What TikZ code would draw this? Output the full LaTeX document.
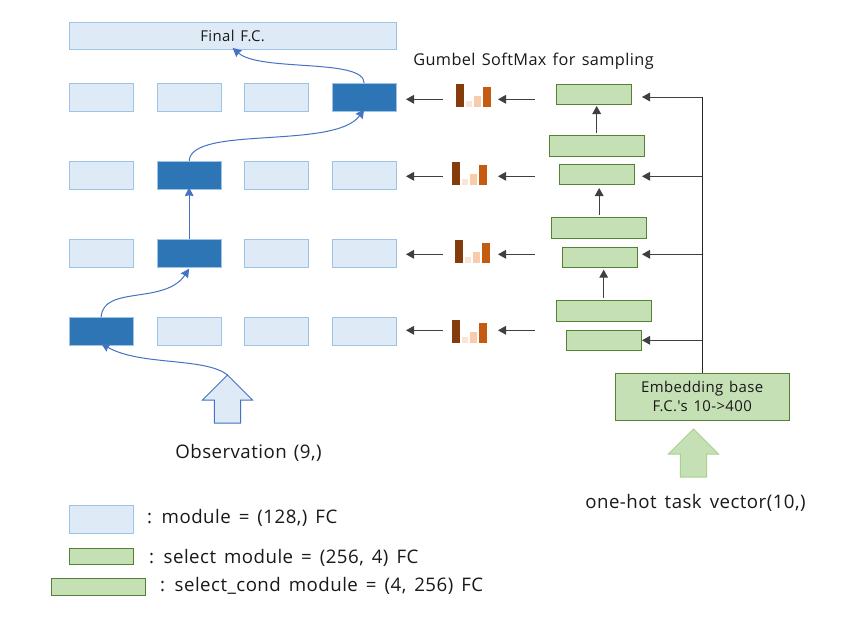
\documentclass[tikz,border=0pt]{standalone}
\usepackage{fontspec}
\setmainfont{Open Sans}
\newfontfamily\lblfont[LetterSpace=2.5,WordSpace=1.35]{Open Sans}
\newcommand{\legendfont}{\lblfont\fontsize{14pt}{16pt}\selectfont\setlength{\spaceskip}{6pt}}
\usetikzlibrary{arrows.meta,shapes.arrows,calc}
\definecolor{modfill}{HTML}{DEEAF6}
\definecolor{modline}{HTML}{9DC3E6}
\definecolor{modon}{HTML}{2E75B6}
\definecolor{grfill}{HTML}{C5E0B4}
\definecolor{grline}{HTML}{548235}
\definecolor{grsoft}{HTML}{A9D18E}
\definecolor{flow}{HTML}{4472C4}
\definecolor{dk}{HTML}{404040}
\definecolor{barA}{HTML}{843C0C}
\definecolor{barB}{HTML}{FBE5D6}
\definecolor{barC}{HTML}{F8CBAD}
\definecolor{barD}{HTML}{C55A11}
\tikzset{
  x=0.75pt,y=-0.75pt,
  boxbase/.style={rectangle,inner sep=0pt,outer sep=0pt,line width=0.75pt,anchor=north west},
  mod/.style={boxbase,draw=modline,fill=modfill,minimum width=48.25pt,minimum height=21pt},
  modsel/.style={boxbase,draw=modline,fill=modon,minimum width=48.25pt,minimum height=21pt},
  selbox/.style={boxbase,draw=grline,fill=grfill,minimum width=56.5pt,minimum height=15pt},
  condbox/.style={boxbase,draw=grline,fill=grfill,minimum width=71.5pt,minimum height=16pt},
  chartbox/.style={rectangle,inner sep=0pt,outer sep=0pt,minimum width=26.25pt,minimum height=17.25pt,anchor=north west},
  flowarrow/.style={draw=flow,line width=0.75pt,-{Stealth[length=6.5pt,width=6.5pt,inset=0.6pt]}},
  dkarrow/.style={draw=dk,line width=0.75pt,-{Stealth[length=6pt,width=6.5pt,inset=0pt]}},
  dkline/.style={draw=black!85,line width=0.75pt},
  bigarrow/.style={single arrow,shape border rotate=90,inner sep=9.4pt,outer sep=0pt,minimum height=36pt,minimum width=36.5pt,single arrow head extend=9pt,single arrow tip angle=90,line width=0.75pt,anchor=tip},
  txt/.style={inner sep=0pt,outer sep=0pt,text=black!90,font=\lblfont\fontsize{14pt}{16pt}\selectfont},
  lgtxt/.style={inner sep=0pt,outer sep=0pt,text=black!90,font=\legendfont},
  smalltxt/.style={inner sep=0pt,outer sep=0pt,text=black!90,font=\lblfont\fontsize{11.2pt}{14.2pt}\selectfont,align=center},
}
\newcommand{\chartat}[3]{%
  \node[chartbox] (#1) at (#2,#3) {};
  \fill[barA] (#2,#3) rectangle (#2+8,#3+23);
  \fill[barB] (#2+10,#3+17) rectangle (#2+16.5,#3+23);
  \fill[barC] (#2+18,#3+12) rectangle (#2+25,#3+23);
  \fill[barD] (#2+27,#3+3) rectangle (#2+35,#3+23);
}
\begin{document}
\begin{tikzpicture}
\useasboundingbox (0,0) rectangle (855,618);
\fill[white] (0,0) rectangle (855,618);
% final
\node[boxbase,draw=modline,fill=modfill,minimum width=245.5pt,minimum height=20.25pt,smalltxt,anchor=north west] (final) at (69,22) {Final F.C.};
% module grid
\foreach \r/\yy in {1/83,2/161,3/239,4/317}{
  \foreach \c/\xx in {1/69,2/157,3/244,4/332}{
    \node[mod] (m\r\c) at (\xx,\yy) {};
  }
}
\node[modsel] (m14) at (332,83) {};
\node[modsel] (m22) at (157,161) {};
\node[modsel] (m32) at (157,239) {};
\node[modsel] (m41) at (69,317) {};
% observation arrow
\node[bigarrow,draw=flow,fill=modfill] (obs) at (227.5,375) {};
\node[txt,anchor=center] (obstxt) at (248.5,452.5) {Observation (9,)};
% flow connectors
\draw[flowarrow] (obs.tip) .. controls (205,357) and (140,366) .. ([yshift=1.2pt]m41.south);
\draw[flowarrow] (m41.north) .. controls (103,285) and (165,305) .. ([yshift=-1.2pt]m32.south);
\draw[flowarrow] (m32.north) -- ([yshift=1.2pt]m22.south);
\draw[flowarrow] (m22.north) .. controls (191,125) and (335,150) .. ([yshift=1.2pt]m14.south);
\draw[flowarrow] (m14.north) .. controls (364,58) and (260,72) .. ([yshift=0.8pt]final.south);
% green column
\node[selbox] (s1) at (556,84) {};
\node[condbox] (c1) at (549,135) {};
\node[selbox] (s2) at (559,164) {};
\node[condbox] (c2) at (551.5,217) {};
\node[selbox] (s3) at (562,247) {};
\node[condbox] (c3) at (556,300) {};
\node[selbox] (s4) at (566,330) {};
\node[boxbase,draw=grline,fill=grfill,minimum width=130.75pt,minimum height=35.25pt,smalltxt] (emb) at (615,373) {Embedding base\\F.C.'s 10->400};
\node[bigarrow,draw=grsoft,fill=grfill] (task) at (693.5,429) {};
\node[lgtxt,anchor=center] (tasktxt) at (695.5,502.5) {one-hot task vector(10,)};
% up arrows
\draw[dkarrow,shorten <=1.5pt,shorten >=1.5pt] (c1.north) -- (c1.north |- s1.south);
\draw[dkarrow,shorten <=1.5pt,shorten >=3pt] (c2.north) -- (c2.north |- s2.south);
\draw[dkarrow,shorten <=1.5pt,shorten >=2pt] (c3.north) -- (c3.north |- s3.south);
% embedding bus
\coordinate (t1) at (642,97);
\coordinate (t2) at (642,176.3);
\coordinate (t3) at (642,254.3);
\coordinate (t4) at (642,340.3);
\coordinate (busT) at (emb.north |- t1);
\draw[dkline] (emb.north) -- (busT);
\draw[dkarrow] (busT) -- (t1);
\draw[dkarrow] (emb.north |- t2) -- (t2);
\draw[dkarrow] (emb.north |- t3) -- (t3);
\draw[dkarrow] (emb.north |- t4) -- (t4);
% charts and arrows
\chartat{g1}{455.5}{84}
\chartat{g2}{451.5}{162}
\chartat{g3}{454.5}{240}
\chartat{g4}{451.5}{320}
\foreach \i/\yy in {1/99.3,2/176.3,3/254.3,4/330.3}{
  \coordinate (in\i) at (535,\yy);
  \coordinate (out\i) at (443,\yy);
  \coordinate (tip\i) at (498,\yy);
  \coordinate (dst\i) at (406,\yy);
  \draw[dkarrow] (in\i) -- (tip\i);
  \draw[dkarrow] (out\i) -- (dst\i);
}
% labels
\node[txt,anchor=center,font=\lblfont\fontsize{12.2pt}{14pt}\selectfont] (gum) at (533.5,61.5) {Gumbel SoftMax for sampling};
% legend
\node[boxbase,draw=modline,fill=modfill,minimum width=48.25pt,minimum height=21pt] (l1) at (69,505) {};
\node[boxbase,draw=grline,fill=grfill,minimum width=48.25pt,minimum height=12pt] (l2) at (69,548) {};
\node[boxbase,draw=grline,fill=grfill,minimum width=71pt,minimum height=12.75pt] (l3) at (51,578) {};
\node[lgtxt,anchor=west] (lt1) at (147,518) {: module = (128,) FC};
\node[lgtxt,anchor=west] (lt2) at (149,558) {: select module = (256, 4) FC};
\node[lgtxt,anchor=west] (lt3) at (160,586) {: select\_cond module = (4, 256) FC};
\end{tikzpicture}
\end{document}
